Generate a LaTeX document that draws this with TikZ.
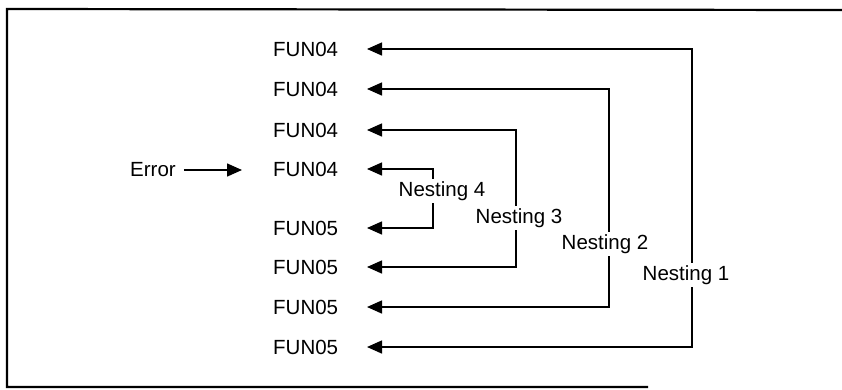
\documentclass[tikz,border=0pt]{standalone}
\usepackage{fontspec}
\setmainfont{Liberation Sans}
\usetikzlibrary{arrows.meta}
\begin{document}
\begin{tikzpicture}[x=1pt,y=-1pt,
  lbl/.style={font=\fontsize{20.5}{24}\selectfont, inner sep=1pt},
  fun/.style={lbl, anchor=west},
  nest/.style={lbl, fill=white, inner sep=2pt},
  conn/.style={line width=1.5pt, -{Triangle[length=15pt,width=13pt]}},
  frame/.style={line width=2.2pt}]
\useasboundingbox (0,0) rectangle (842,389);
% frame (open at right, as in the scan)
\draw[frame] (842,10) -- (7,9) -- (7,387) -- (648,387);
% function rows
\node[fun] (a1) at (272,49) {FUN04};
\node[fun] (a2) at (272,89) {FUN04};
\node[fun] (a3) at (272,130) {FUN04};
\node[fun] (a4) at (272,169) {FUN04};
\node[fun] (b4) at (272,228) {FUN05};
\node[fun] (b3) at (272,267) {FUN05};
\node[fun] (b2) at (272,307) {FUN05};
\node[fun] (b1) at (272,347) {FUN05};
% arrow tips
\coordinate (ta1) at (367,49);
\coordinate (ta2) at (367,89);
\coordinate (ta3) at (367,130);
\coordinate (ta4) at (367,169);
\coordinate (tb4) at (367,228);
\coordinate (tb3) at (367,267);
\coordinate (tb2) at (367,307);
\coordinate (tb1) at (367,347);
% corners
\coordinate (c1t) at (692,49);  \coordinate (c1b) at (692,347);
\coordinate (c2t) at (609,89);  \coordinate (c2b) at (609,307);
\coordinate (c3t) at (516,130); \coordinate (c3b) at (516,267);
\coordinate (c4t) at (433,169); \coordinate (c4b) at (433,228);
% connectors
\draw[conn] (c1b) -- (c1t) -- (ta1);
\draw[conn] (c1t) |- (tb1);
\draw[conn] (c2b) -- (c2t) -- (ta2);
\draw[conn] (c2t) |- (tb2);
\draw[conn] (c3b) -- (c3t) -- (ta3);
\draw[conn] (c3t) |- (tb3);
\draw[conn] (c4b) -- (c4t) -- (ta4);
\draw[conn] (c4t) |- (tb4);
% nesting labels
\node[nest] (n4) at (442,191) {Nesting 4};
\node[nest] (n3) at (519,218) {Nesting 3};
\node[nest] (n2) at (605,244) {Nesting 2};
\node[nest] (n1) at (686,275) {Nesting 1};
% error
\node[lbl] (err) at (153,170) {Error};
\coordinate (errtip) at (242,170);
\draw[conn] (err.east) ++(7,0) coordinate (errs) -- (errtip);
\end{tikzpicture}
\end{document}
